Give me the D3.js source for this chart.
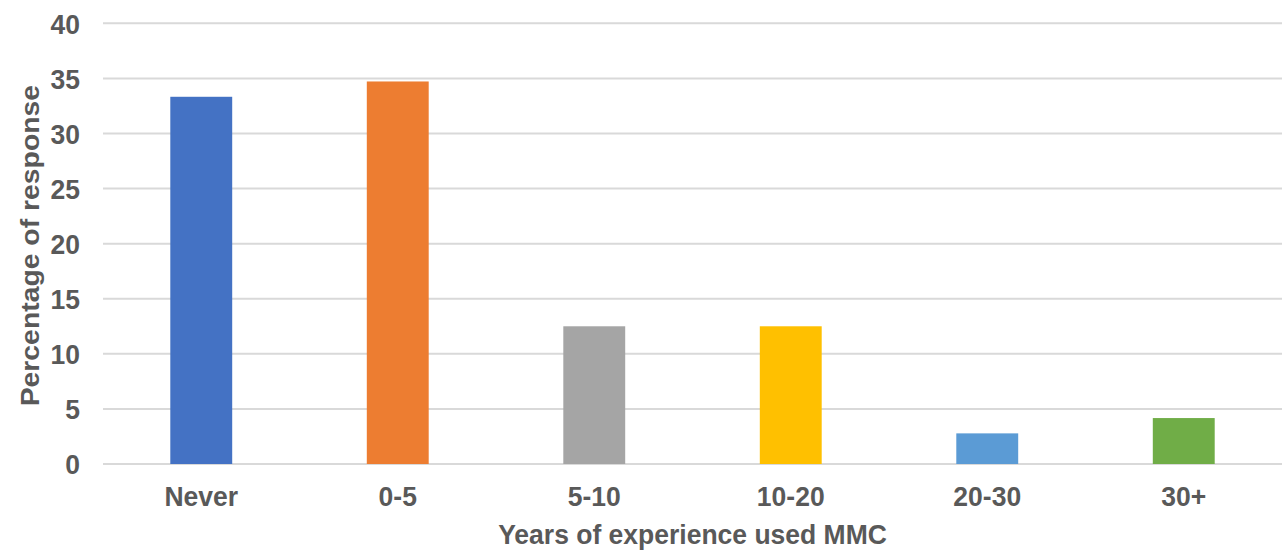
<!DOCTYPE html>
<html>
<head>
<meta charset="utf-8">
<script src="https://cdn.jsdelivr.net/npm/d3@7"></script>
<style>
  html, body { margin: 0; padding: 0; background: #fff; }
  svg { display: block; }
  text { font-family: "Liberation Sans", Arial, sans-serif; font-weight: bold; fill: #595959; }
</style>
</head>
<body>
<svg id="chart" width="1287" height="553"></svg>
<script>
// Share of respondents by years of experience using MMC
const categories = ["Never", "0-5", "5-10", "10-20", "20-30", "30+"];
const values = [33.33, 34.72, 12.5, 12.5, 2.78, 4.17];
const colors = ["#4472C4", "#ED7D31", "#A5A5A5", "#FFC000", "#5B9BD5", "#70AD47"];
const yTicks = [0, 5, 10, 15, 20, 25, 30, 35, 40];

const svg = d3.select("#chart");
const plot = { left: 103, right: 1282, top: 23.3, bottom: 464 };
const fontSize = 26.5;
const stretch = 1.07; // text is drawn slightly taller than wide

const x = d3.scaleBand()
  .domain(categories)
  .range([plot.left, plot.right])
  .paddingInner(0.685)
  .paddingOuter(0.3425);

const y = d3.scaleLinear()
  .domain([0, 40])
  .range([plot.bottom, plot.top]);

// horizontal gridlines
svg.append("g")
  .selectAll("line")
  .data(yTicks)
  .join("line")
  .attr("x1", plot.left)
  .attr("x2", plot.right)
  .attr("y1", d => y(d))
  .attr("y2", d => y(d))
  .attr("stroke", "#d9d9d9")
  .attr("stroke-width", 2);

// bars
svg.append("g")
  .selectAll("rect")
  .data(categories)
  .join("rect")
  .attr("x", d => x(d))
  .attr("width", x.bandwidth())
  .attr("y", (d, i) => y(values[i]))
  .attr("height", (d, i) => y(0) - y(values[i]))
  .attr("fill", (d, i) => colors[i]);

// y axis labels
const yAxis = d3.axisLeft(y).tickValues(yTicks).tickSize(0).tickPadding(0);
const gy = svg.append("g")
  .attr("transform", `translate(80,0)`)
  .call(yAxis);
gy.select(".domain").remove();
gy.selectAll(".tick text")
  .attr("font-size", fontSize)
  .attr("font-family", null)
  .attr("fill", "#595959")
  .attr("x", 0)
  .attr("dy", "0.36em")
  .attr("transform", `scale(1,${stretch})`)
  .attr("y", 0);
// keep stretched labels centred on their gridline
gy.selectAll(".tick").each(function (d) {
  d3.select(this).attr("transform", `translate(0,${y(d)})`);
});

// x axis labels
const xAxis = d3.axisBottom(x).tickSize(0).tickPadding(0);
const gx = svg.append("g")
  .attr("transform", `translate(0,${plot.bottom})`)
  .call(xAxis);
gx.select(".domain").remove();
gx.selectAll(".tick text")
  .attr("font-size", fontSize)
  .attr("font-family", null)
  .attr("fill", "#595959")
  .attr("y", 0)
  .attr("dy", null)
  .attr("transform", `translate(0,42) scale(1,${stretch})`);

// axis titles
svg.append("text")
  .attr("transform", `translate(${(plot.left + plot.right) / 2},544) scale(1,${stretch})`)
  .attr("text-anchor", "middle")
  .attr("font-size", fontSize)
  .text("Years of experience used MMC");

svg.append("text")
  .attr("transform", `translate(39,${(plot.top + plot.bottom) / 2 + 2}) rotate(-90) scale(${stretch},1)`)
  .attr("text-anchor", "middle")
  .attr("font-size", fontSize)
  .text("Percentage of response");
</script>
</body>
</html>
